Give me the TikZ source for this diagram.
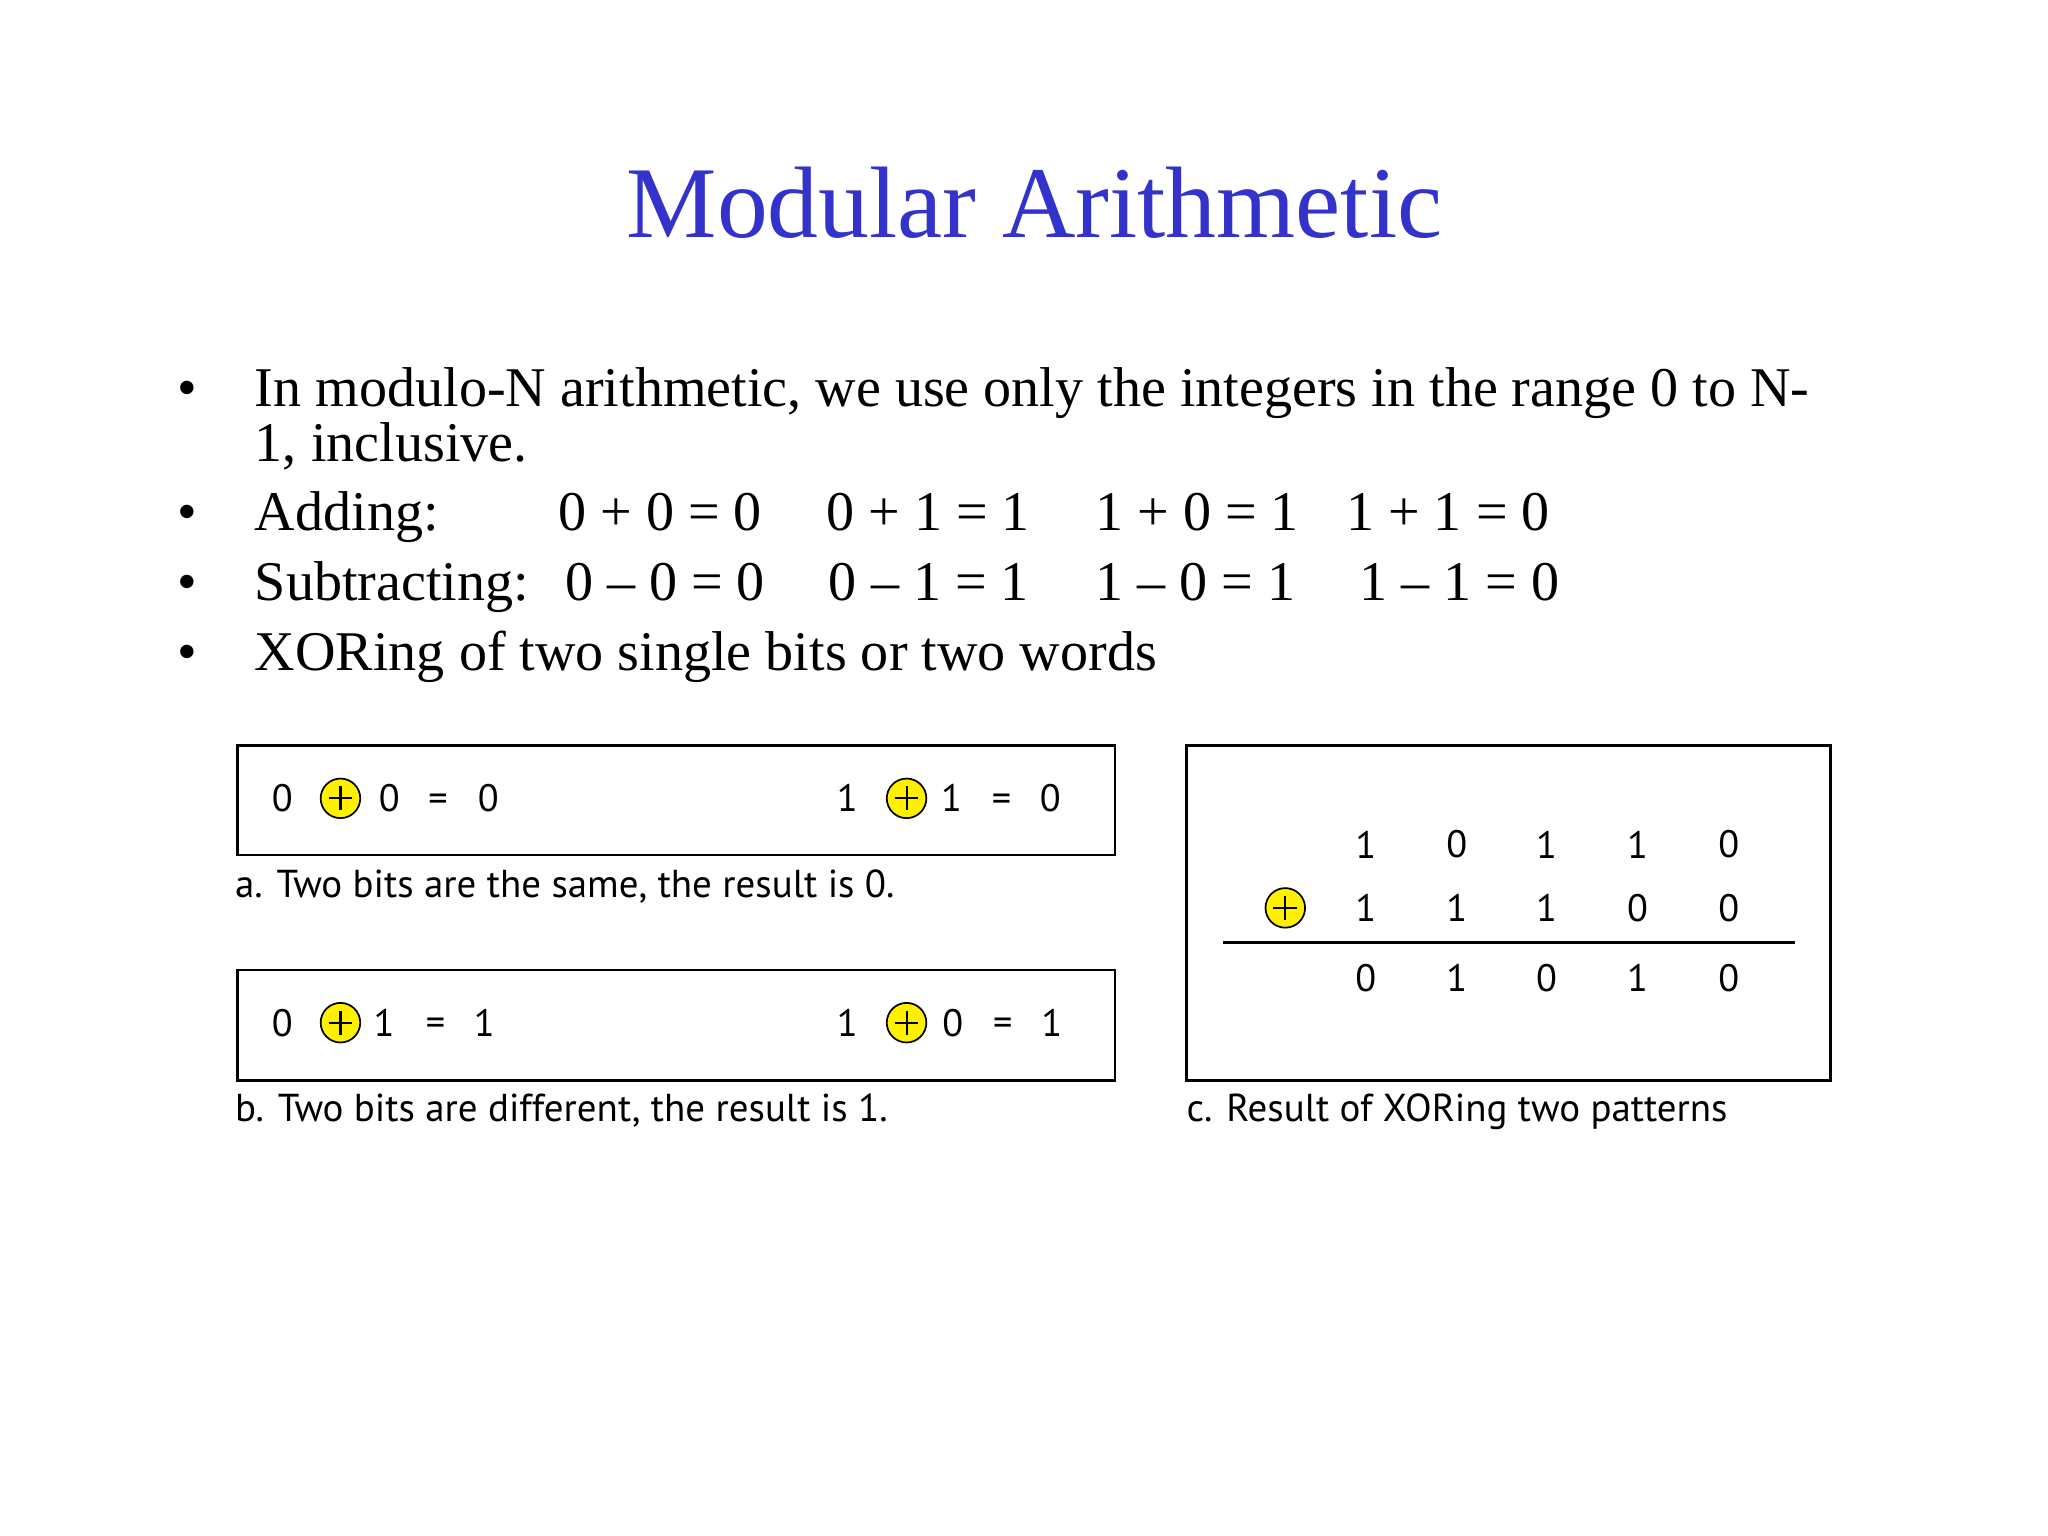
\documentclass[tikz,border=0pt]{standalone}
\usepackage{fontspec}
\setmainfont{Liberation Serif}
\newfontfamily\dg{PT Sans}
\definecolor{ttl}{RGB}{51,51,204}
\definecolor{xory}{RGB}{255,240,0}
\begin{document}
\begin{tikzpicture}[x=1pt,y=-1pt,
  body/.style={anchor=base west,inner sep=0pt,font=\fontsize{42.5}{46}\selectfont},
  dgt/.style={inner sep=0pt,font=\dg\fontsize{29}{32}\selectfont},
  captxt/.style={anchor=base west,inner sep=0pt,font=\dg\fontsize{29.5}{32}\selectfont},
  xo/.style={circle,draw,line width=1.3pt,fill=xory,minimum size=30pt,inner sep=0pt,
    path picture={\draw[line width=1.6pt] ([xshift=-9pt]path picture bounding box.center) -- ([xshift=9pt]path picture bounding box.center)
      ([yshift=-9pt]path picture bounding box.center) -- ([yshift=9pt]path picture bounding box.center);}},
  frame/.style={draw,line width=2pt}]
\useasboundingbox (0,0) rectangle (1552,1164);
\fill[white] (0,0) rectangle (1552,1164);
\node[inner sep=0pt,anchor=base,text=ttl,font=\fontsize{77}{82}\selectfont] (title) at (784,180) {Modular Arithmetic};
% bullets
\foreach \y/\n in {308/b1,402/b2,455/b3,508/b4}{\node[body,anchor=base] (\n) at (142,\y) {\textbullet};}
\node[body] (t1) at (193,308) {In modulo-N arithmetic, we use only the integers in the range 0 to N-};
\node[body] (t1b) at (193,350) {1, inclusive.};
\node[body] (t2) at (193,402) {Adding:};
\node[body] (a1) at (423,402) {0 + 0 = 0};
\node[body] (a2) at (626,402) {0 + 1 = 1};
\node[body] (a3) at (830,402) {1 + 0 = 1};
\node[body] (a4) at (1020,402) {1 + 1 = 0};
\node[body] (t3) at (193,455) {Subtracting:};
\node[body] (s1) at (428,455) {0 – 0 = 0};
\node[body] (s2) at (628,455) {0 – 1 = 1};
\node[body] (s3) at (830,455) {1 – 0 = 1};
\node[body] (s4) at (1030,455) {1 – 1 = 0};
\node[body] (t4) at (193,508) {XORing of two single bits or two words};
% frames
\draw[frame] (180,565) rectangle (845,648);
\draw[frame] (180,735) rectangle (845,819);
\draw[frame] (899,565) rectangle (1387,819);
% box a
\node[dgt] (pa1) at (214,605) {0};
\node[xo] (xa1) at (258,605) {};
\node[dgt] (pa2) at (295,605) {0};
\node[dgt] (pa3) at (332,608) {=};
\node[dgt] (pa4) at (370,605) {0};
\node[dgt] (qa1) at (642,605) {1};
\node[xo] (xa2) at (687,605) {};
\node[dgt] (qa2) at (721,605) {1};
\node[dgt] (qa3) at (759,608) {=};
\node[dgt] (qa4) at (796,605) {0};
\node[captxt] (capa) at (178,680) {a. Two bits are the same, the result is 0.};
% box b
\node[dgt] (pb1) at (214,775) {0};
\node[xo] (xb1) at (258,775) {};
\node[dgt] (pb2) at (291,775) {1};
\node[dgt] (pb3) at (330,778) {=};
\node[dgt] (pb4) at (367,775) {1};
\node[dgt] (qb1) at (642,775) {1};
\node[xo] (xb2) at (687,775) {};
\node[dgt] (qb2) at (722,775) {0};
\node[dgt] (qb3) at (760,778) {=};
\node[dgt] (qb4) at (797,775) {1};
\node[captxt] (capb) at (178,850) {b. Two bits are different, the result is 1.};
% box c
\foreach \x/\a/\b/\c [count=\i] in {1035/1/1/0,1104/0/1/1,1172/1/1/0,1241/1/0/1,1310/0/0/0}{
  \node[dgt] (r1\i) at (\x,640) {\a};
  \node[dgt] (r2\i) at (\x,688) {\b};
  \node[dgt] (r3\i) at (\x,741) {\c};
}
\node[xo] (xc) at (974,688) {};
\coordinate (l1) at (927,714);
\coordinate (l2) at (1360,714);
\draw[line width=2pt] (l1) -- (l2);
\node[captxt] (capc) at (899,850) {c. Result of XORing two patterns};
\end{tikzpicture}
\end{document}
